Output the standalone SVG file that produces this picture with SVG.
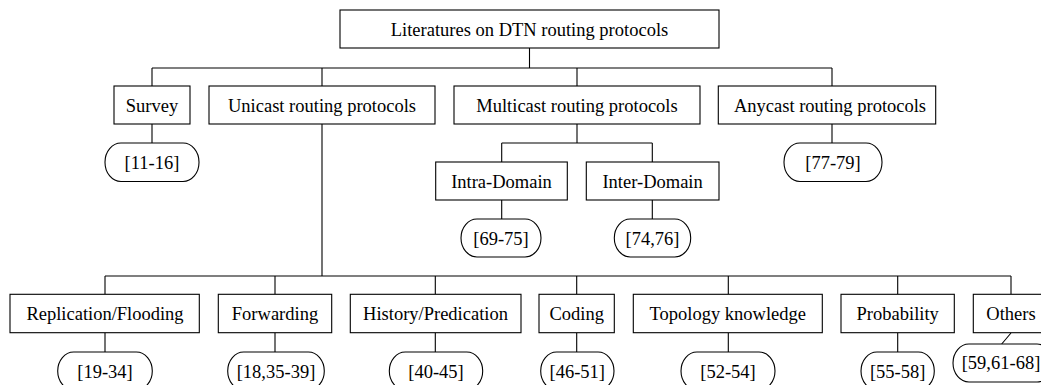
<svg xmlns="http://www.w3.org/2000/svg" width="1041" height="385" viewBox="0 0 1041 385">
  <style>
    .box { fill: #fff; stroke: #000; stroke-width: 1.1; }
    .pill { fill: #fff; stroke: #000; stroke-width: 1.1; }
    .lbl { font-family: "Liberation Serif", "Times New Roman", serif; font-size: 18.5px; fill: #000; text-anchor: middle; }
    .wire { fill: none; stroke: #000; stroke-width: 1.1; }
  </style>
  <rect width="1041" height="385" fill="#fff"/>

  <!-- tree connectors -->
  <g id="connectors" class="wire">
    <path d="M529.5,48 V68 M152,68 H832 M152,68 V86 M322,68 V86 M577,68 V86 M832,68 V86"/>
    <path d="M152,124 V143 M832,124 V143"/>
    <path d="M577,124 V143 M501.7,143 H652.3 M501.7,143 V162 M652.3,143 V162"/>
    <path d="M501.7,200 V219 M652.3,200 V219"/>
    <path d="M322,124 V276 M105,276 H1011 M105,276 V294 M275,276 V294 M435.3,276 V294 M576.7,276 V294 M728.3,276 V294 M897.7,276 V294 M1011,276 V294"/>
    <path d="M105,333 V352 M275,333 V352 M435.3,333 V352 M576.7,333 V352 M728.3,333 V352 M897.7,333 V352 M1011,333 L1001.7,344"/>
  </g>

  <!-- root -->
  <g id="root">
    <rect class="box" x="340" y="10" width="379" height="38"/>
    <text class="lbl" x="529.5" y="35.5">Literatures on DTN routing protocols</text>
  </g>

  <!-- second level -->
  <g id="survey">
    <rect class="box" x="114" y="86" width="76" height="38"/>
    <text class="lbl" x="152" y="111.5">Survey</text>
  </g>
  <g id="survey-refs">
    <rect class="pill" x="105" y="143" width="94" height="38.5" rx="16" ry="19"/>
    <text class="lbl" x="152" y="168.5">[11-16]</text>
  </g>
  <g id="unicast">
    <rect class="box" x="209" y="86" width="226" height="38"/>
    <text class="lbl" x="322" y="111.5">Unicast routing protocols</text>
  </g>
  <g id="multicast">
    <rect class="box" x="454" y="86" width="246" height="38"/>
    <text class="lbl" x="577" y="111.5">Multicast routing protocols</text>
  </g>
  <g id="anycast">
    <rect class="box" x="718.3" y="86" width="217.4" height="38"/>
    <text class="lbl" x="830" y="111.5">Anycast routing protocols</text>
  </g>
  <g id="anycast-refs">
    <rect class="pill" x="784" y="143" width="98" height="38.5" rx="16" ry="19"/>
    <text class="lbl" x="833" y="168.5">[77-79]</text>
  </g>

  <!-- multicast branches -->
  <g id="intra-domain">
    <rect class="box" x="435.7" y="162" width="131.6" height="38"/>
    <text class="lbl" x="501.5" y="187.5">Intra-Domain</text>
  </g>
  <g id="intra-refs">
    <rect class="pill" x="461" y="219" width="80" height="38" rx="16" ry="19"/>
    <text class="lbl" x="501" y="244.5">[69-75]</text>
  </g>
  <g id="inter-domain">
    <rect class="box" x="586.3" y="162" width="132.7" height="38"/>
    <text class="lbl" x="652.6" y="187.5">Inter-Domain</text>
  </g>
  <g id="inter-refs">
    <rect class="pill" x="614.3" y="219" width="76.4" height="38" rx="16" ry="19"/>
    <text class="lbl" x="652.5" y="244.5">[74,76]</text>
  </g>

  <!-- unicast categories -->
  <g id="replication">
    <rect class="box" x="10" y="294.3" width="189.3" height="38.4"/>
    <text class="lbl" x="105" y="320">Replication/Flooding</text>
  </g>
  <g id="replication-refs">
    <rect class="pill" x="57.7" y="352" width="94.6" height="38" rx="16" ry="19"/>
    <text class="lbl" x="105" y="377.5">[19-34]</text>
  </g>
  <g id="forwarding">
    <rect class="box" x="218.3" y="294.3" width="113.4" height="38.4"/>
    <text class="lbl" x="275" y="320">Forwarding</text>
  </g>
  <g id="forwarding-refs">
    <rect class="pill" x="227.7" y="352" width="96.6" height="38" rx="16" ry="19"/>
    <text class="lbl" x="276" y="377.5">[18,35-39]</text>
  </g>
  <g id="history">
    <rect class="box" x="350.3" y="294.3" width="170.7" height="38.4"/>
    <text class="lbl" x="435.5" y="320">History/Predication</text>
  </g>
  <g id="history-refs">
    <rect class="pill" x="389.3" y="352" width="93.4" height="38" rx="16" ry="19"/>
    <text class="lbl" x="436" y="377.5">[40-45]</text>
  </g>
  <g id="coding">
    <rect class="box" x="539" y="294.3" width="75.3" height="38.4"/>
    <text class="lbl" x="576.7" y="320">Coding</text>
  </g>
  <g id="coding-refs">
    <rect class="pill" x="540.7" y="352" width="73.3" height="38" rx="16" ry="19"/>
    <text class="lbl" x="577.3" y="377.5">[46-51]</text>
  </g>
  <g id="topology">
    <rect class="box" x="633.3" y="294.3" width="189" height="38.4"/>
    <text class="lbl" x="727.8" y="320">Topology knowledge</text>
  </g>
  <g id="topology-refs">
    <rect class="pill" x="681" y="352" width="94" height="38" rx="16" ry="19"/>
    <text class="lbl" x="728" y="377.5">[52-54]</text>
  </g>
  <g id="probability">
    <rect class="box" x="841" y="294.3" width="113.3" height="38.4"/>
    <text class="lbl" x="897.7" y="320">Probability</text>
  </g>
  <g id="probability-refs">
    <rect class="pill" x="861" y="352" width="73.3" height="38" rx="16" ry="19"/>
    <text class="lbl" x="897.7" y="377.5">[55-58]</text>
  </g>
  <g id="others">
    <rect class="box" x="973.3" y="294.3" width="80" height="38.4"/>
    <text class="lbl" x="1011" y="320">Others</text>
  </g>
  <g id="others-refs">
    <rect class="pill" x="953" y="344" width="100" height="38" rx="16" ry="19"/>
    <text class="lbl" x="1001" y="368.5">[59,61-68]</text>
  </g>
</svg>
